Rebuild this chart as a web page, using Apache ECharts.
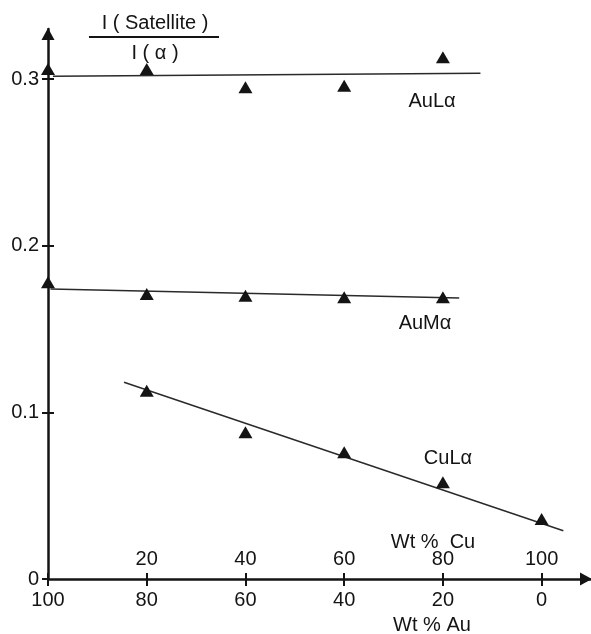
<!DOCTYPE html>
<html>
<head>
<meta charset="utf-8">
<script src="https://cdn.jsdelivr.net/npm/echarts@6/dist/echarts.min.js"></script>
<style>
  html, body { margin: 0; padding: 0; background: #fff; }
  #chart { width: 591px; height: 634px; }
</style>
</head>
<body>
<div id="chart"></div>
<script>
// Composition axis (Wt % Cu); Wt % Au is its complement
const cuTicks = [20, 40, 60, 80, 100];
const allTicks = [0, 20, 40, 60, 80, 100];
const yTicks = [0, 0.1, 0.2, 0.3];

// Measured satellite / alpha intensity ratios
const auLaCu = [0, 20, 40, 60, 80];
const auLaVals = [0.306, 0.306, 0.295, 0.296, 0.313];
const auMaCu = [0, 20, 40, 60, 80];
const auMaVals = [0.178, 0.171, 0.170, 0.169, 0.169];
const cuLaCu = [20, 40, 60, 80, 100];
const cuLaVals = [0.113, 0.088, 0.076, 0.058, 0.036];

// Fitted trend lines (end points in data units)
const auLaFit = [[1, 0.3017], [87.6, 0.3035]];
const auMaFit = [[0.5, 0.1740], [83.3, 0.1686]];
const cuLaFit = [[15.4, 0.118], [104.4, 0.029]];

const pair = (xs, ys) => xs.map((x, i) => [x, ys[i]]);

const ink = '#141414';
const font = 'Liberation Sans';

const chart = echarts.init(document.getElementById('chart'));

const fitLine = (data) => ({
  type: 'line', data, symbol: 'none', silent: true,
  lineStyle: { color: '#2a2a2a', width: 1.5 }, z: 2
});
const points = (data) => ({
  type: 'scatter', data, symbol: 'triangle', symbolSize: [14, 12],
  itemStyle: { color: ink, opacity: 1 }, z: 3
});

const textAt = (x, y, text) => ({
  type: 'text', x, y,
  style: { text, align: 'center', verticalAlign: 'middle',
    fill: ink, fontFamily: font, fontSize: 20 }
});

chart.setOption({
  animation: false,
  backgroundColor: '#ffffff',
  grid: { left: 48, right: 0, top: 29, bottom: 55 },
  xAxis: [
    {
      type: 'value', min: 0, max: 110, position: 'bottom',
      splitLine: { show: false },
      axisLine: { show: true, lineStyle: { color: ink, width: 2.5 },
        symbol: ['none', 'triangle'], symbolSize: [13, 12], symbolOffset: [0, -5] },
      axisTick: { show: true, length: 7, customValues: allTicks,
        lineStyle: { color: ink, width: 2 } },
      axisLabel: { customValues: allTicks, formatter: v => String(100 - v),
        margin: 11, color: ink, fontFamily: font, fontSize: 20 }
    },
    {
      type: 'value', min: 0, max: 110, position: 'bottom',
      splitLine: { show: false },
      axisLine: { show: false },
      axisTick: { show: true, inside: true, length: 6, customValues: allTicks,
        lineStyle: { color: ink, width: 2 } },
      axisLabel: { inside: true, customValues: cuTicks, margin: 10,
        color: ink, fontFamily: font, fontSize: 20 }
    }
  ],
  yAxis: [
    {
      type: 'value', min: 0, max: 0.33, position: 'left',
      splitLine: { show: false },
      axisLine: { show: true, lineStyle: { color: ink, width: 2.5 },
        symbol: ['none', 'triangle'], symbolSize: [13, 12], symbolOffset: [0, -5] },
      axisTick: { show: true, length: 6, customValues: yTicks,
        lineStyle: { color: ink, width: 2 } },
      axisLabel: { customValues: yTicks, margin: 9,
        formatter: v => (v === 0 ? '0' : v.toFixed(1)),
        color: ink, fontFamily: font, fontSize: 20 }
    },
    {
      type: 'value', min: 0, max: 0.33, position: 'left',
      splitLine: { show: false },
      axisLine: { show: false },
      axisTick: { show: true, inside: true, length: 6, customValues: yTicks.slice(1),
        lineStyle: { color: ink, width: 2 } },
      axisLabel: { show: false }
    }
  ],
  series: [
    fitLine(auLaFit), fitLine(auMaFit), fitLine(cuLaFit),
    points(pair(auLaCu, auLaVals)),
    points(pair(auMaCu, auMaVals)),
    points(pair(cuLaCu, cuLaVals))
  ],
  graphic: [
    textAt(155, 23, 'I ( Satellite )'),
    { type: 'line', shape: { x1: 89, y1: 37, x2: 219, y2: 37 },
      style: { stroke: ink, lineWidth: 2 } },
    textAt(155, 53, 'I ( α )'),
    textAt(432, 101, 'AuLα'),
    textAt(425, 323, 'AuMα'),
    textAt(448, 458, 'CuLα'),
    textAt(433, 542, 'Wt %  Cu'),
    textAt(432, 625, 'Wt % Au')
  ]
});
</script>
</body>
</html>
